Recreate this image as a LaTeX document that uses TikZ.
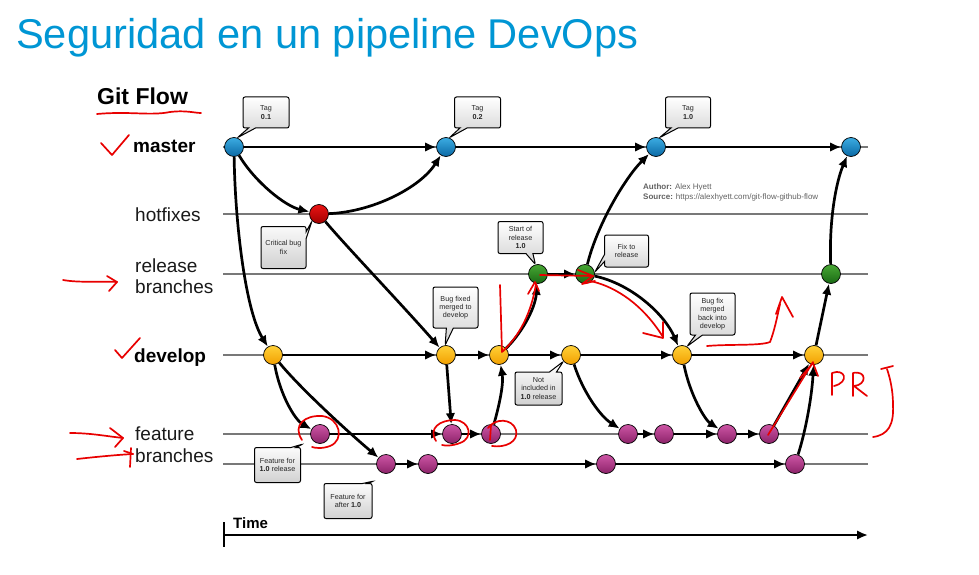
\documentclass[tikz,border=0pt]{standalone}
\usepackage{fontspec}
\setmainfont{Liberation Sans}
\usetikzlibrary{arrows.meta,shapes.callouts}
\definecolor{titleblue}{RGB}{0,150,212}
\definecolor{lanegray}{RGB}{120,120,120}
\definecolor{inkred}{RGB}{232,0,0}
\definecolor{blueT}{RGB}{60,172,226}
\definecolor{blueB}{RGB}{10,105,165}
\definecolor{redT}{RGB}{235,20,20}
\definecolor{redB}{RGB}{160,0,0}
\definecolor{greenT}{RGB}{72,168,52}
\definecolor{greenB}{RGB}{25,105,20}
\definecolor{yellowT}{RGB}{255,208,55}
\definecolor{yellowB}{RGB}{242,160,0}
\definecolor{plumT}{RGB}{205,85,165}
\definecolor{plumB}{RGB}{140,35,105}
\begin{document}
\begin{tikzpicture}[x=1pt,y=-1pt,
  lane/.style={draw=lanegray, line width=2.6pt},
  flow/.style={-{Latex[length=11pt,width=9.5pt]}, line width=2.7pt},
  commit/.style={circle, draw=black, line width=0.7pt, minimum size=19pt, inner sep=0pt},
  cmaster/.style={commit, top color=blueT, bottom color=blueB},
  chotfix/.style={commit, top color=redT, bottom color=redB},
  crelease/.style={commit, top color=greenT, bottom color=greenB},
  cdevelop/.style={commit, top color=yellowT, bottom color=yellowB},
  cfeature/.style={commit, top color=plumT, bottom color=plumB},
  note/.style={rectangle callout, draw=black, line width=1pt, rounded corners=2pt,
    top color=white, bottom color=black!18, align=center, inner sep=1pt,
    font=\fontsize{7.2}{8.3}\selectfont, text=black!85, callout pointer width=7pt},
  lbl/.style={anchor=base west, inner sep=0pt, font=\fontsize{19}{21}\selectfont, text=black!90},
  lblb/.style={anchor=base west, inner sep=0pt, font=\fontsize{19}{21}\selectfont\bfseries, text=black},
  ink/.style={draw=inkred, line width=1.7pt, line cap=round, line join=round},
]
\useasboundingbox (0,0) rectangle (979,575);

% title
\node[anchor=base west, inner sep=0pt, font=\fontsize{41.6}{48}\selectfont, text=titleblue]
  (title) at (16,49) {Seguridad en un pipeline DevOps};

% branch lanes
\foreach \y in {147,214,274,355,434,464}
  \draw[lane] (223,\y) -- (868,\y);

% lane labels
\node[anchor=base west, inner sep=0pt, font=\fontsize{23}{26}\selectfont\bfseries] (gitflow) at (97,105) {Git Flow};
\node[lblb] (lmaster) at (133,153) {master};
\node[lbl] (lhot) at (135,221.5) {hotfixes};
\node[lbl] (lrelA) at (135,272) {release};
\node[lbl] (lrelB) at (135,293) {branches};
\node[lblb] (ldev) at (134,362) {develop};
\node[lbl] (lfeatA) at (135,440) {feature};
\node[lbl] (lfeatB) at (135,462) {branches};

% commits
\node[cmaster] (M1) at (234,147) {};
\node[cmaster] (M2) at (446,147) {};
\node[cmaster] (M3) at (656,147) {};
\node[cmaster] (M4) at (851,147) {};
\node[chotfix] (H1) at (319,214) {};
\node[crelease] (R1) at (538,274) {};
\node[crelease] (R2) at (585,274) {};
\node[crelease] (R3) at (831,274) {};
\node[cdevelop] (D1) at (273,355) {};
\node[cdevelop] (D2) at (446,355) {};
\node[cdevelop] (D3) at (499,355) {};
\node[cdevelop] (D4) at (571,355) {};
\node[cdevelop] (D5) at (682,355) {};
\node[cdevelop] (D6) at (814,355) {};
\node[cfeature] (F1) at (320,434) {};
\node[cfeature] (F2) at (452,434) {};
\node[cfeature] (F3) at (491,434) {};
\node[cfeature] (F4) at (628,434) {};
\node[cfeature] (F5) at (664,434) {};
\node[cfeature] (F6) at (727,434) {};
\node[cfeature] (F7) at (769,434) {};
\node[cfeature] (G1) at (386,464) {};
\node[cfeature] (G2) at (428,464) {};
\node[cfeature] (G3) at (606,464) {};
\node[cfeature] (G4) at (795,464) {};

% history along each branch
\draw[flow] (M1) -- (M2);
\draw[flow] (M2) -- (M3);
\draw[flow] (M3) -- (M4);
\draw[flow] (D1) -- (D2);
\draw[flow] (D2) -- (D3);
\draw[flow] (D3) -- (D4);
\draw[flow] (D4) -- (D5);
\draw[flow] (D5) -- (D6);
\draw[flow] (R1) -- (R2);
\draw[flow] (F1) -- (F2);
\draw[flow] (F2) -- (F3);
\draw[flow] (F4) -- (F5);
\draw[flow] (F5) -- (F6);
\draw[flow] (F6) -- (F7);
\draw[flow] (G1) -- (G2);
\draw[flow] (G2) -- (G3);
\draw[flow] (G3) -- (G4);

% branching and merging
\draw[flow] (M1) .. controls (255,182) and (285,206) .. (H1);
\draw[flow] (M1) .. controls (235,220) and (245,310) .. (D1);
\draw[flow] (H1) .. controls (372,212) and (420,188) .. (M2);
\draw[flow] (H1) .. controls (345,245) and (405,308) .. (D2);
\draw[flow] (D1) .. controls (280,395) and (295,420) .. (F1);
\draw[flow] (D1) .. controls (300,388) and (348,432) .. (G1);
\draw[flow] (D2) -- (F2);
\draw[flow] (F3) .. controls (498,410) and (504,385) .. (D3);
\draw[flow] (D3) .. controls (520,335) and (535,310) .. (R1);
\draw[flow] (R2) .. controls (597,225) and (625,178) .. (M3);
\draw[flow] (R2) .. controls (632,284) and (665,315) .. (D5);
\draw[flow] (D4) .. controls (583,392) and (600,416) .. (F4);
\draw[flow] (D5) .. controls (690,395) and (705,420) .. (F6);
\draw[flow] (F7) -- (D6);
\draw[flow] (G4) .. controls (806,430) and (812,395) .. (D6);
\draw[flow] (D6) -- (R3);
\draw[flow] (R3) .. controls (829,220) and (836,182) .. (M4);

% callouts
\node[note, minimum width=46pt, minimum height=31pt, callout absolute pointer={(M1.70)}] (tag01) at (266,112.5) {Tag\\\textbf{0.1}};
\node[note, minimum width=46pt, minimum height=31pt, callout absolute pointer={(M2.70)}] (tag02) at (477.5,112.5) {Tag\\\textbf{0.2}};
\node[note, minimum width=45pt, minimum height=31pt, callout absolute pointer={(M3.70)}] (tag10) at (688,112.5) {Tag\\\textbf{1.0}};
\node[note, minimum width=45pt, minimum height=42pt, callout absolute pointer={(H1.225)}] (crit) at (283.5,247.5) {Critical bug\\fix};
\node[note, minimum width=45pt, minimum height=32pt, callout absolute pointer={(R1.105)}] (start) at (520.5,237.5) {Start of\\release\\\textbf{1.0}};
\node[note, minimum width=44pt, minimum height=32pt, callout absolute pointer={(R2.10)}] (fixrel) at (626.5,251) {Fix to\\release};
\node[note, minimum width=45pt, minimum height=41pt, callout absolute pointer={(D2.95)}] (bugdev) at (455.5,307.5) {Bug fixed\\merged to\\develop};
\node[note, minimum width=47pt, minimum height=33pt, callout absolute pointer={(D4.220)}] (notinc) at (538.5,388.5) {Not\\included in\\\textbf{1.0} release};
\node[note, minimum width=45pt, minimum height=42pt, callout absolute pointer={(D5.60)}] (bugback) at (712.5,314) {Bug fix\\merged\\back into\\develop};
\coordinate (flagA) at (303,444);
\coordinate (flagB) at (374,481);
\node[note, minimum width=46pt, minimum height=35pt, callout absolute pointer={(flagA)}, callout pointer width=5pt] (feat10) at (277.5,465) {Feature for\\\textbf{1.0} release};
\node[note, minimum width=48pt, minimum height=35pt, callout absolute pointer={(flagB)}, callout pointer width=5pt] (featafter) at (348,501) {Feature for\\after \textbf{1.0}};

% credits
\node[anchor=base west, inner sep=0pt, font=\fontsize{8}{10}\selectfont, text=black!62] (author) at (643,189) {\textbf{Author:} Alex Hyett};
\node[anchor=base west, inner sep=0pt, font=\fontsize{8}{10}\selectfont, text=black!62] (source) at (643,199.5) {\textbf{Source:} https://alexhyett.com/git-flow-github-flow};

% time axis
\node[anchor=base west, inner sep=0pt, font=\fontsize{15}{18}\selectfont\bfseries] (time) at (233,528) {Time};
\draw[line width=2.2pt] (224,522) -- (224,547);
\draw[line width=2.2pt, -{Latex[length=11pt,width=9.5pt]}] (224,535) -- (868,535);

% hand-drawn marks in red
\draw[ink] (97,114) .. controls (130,111) and (150,116) .. (170,112) .. controls (185,110) and (195,113) .. (201,113);
\draw[ink] (101,143) -- (112,155) -- (129,135);
\draw[ink] (115,350) -- (122,358) -- (140,338);
\draw[ink] (63,280) .. controls (80,283) and (100,281) .. (117,282);
\draw[ink] (107,276) -- (117,282) -- (109,291);
\draw[ink] (70,433) .. controls (90,433) and (105,436) .. (123,438);
\draw[ink] (110,428) -- (123,438) -- (115,447);
\draw[ink] (77,459) .. controls (95,457) and (115,455) .. (133,454);
\draw[ink] (124,451) -- (133,454);
\draw[ink] (131,448) -- (130,467);
% loops round the merged feature commits
\draw[ink] (302,440) .. controls (292,425) and (305,415) .. (322,416) .. controls (340,418) and (345,440) .. (330,446) .. controls (322,449) and (315,448) .. (312,447);
\draw[ink] (436,441) .. controls (428,428) and (440,420) .. (455,420) .. controls (470,421) and (474,438) .. (460,443) .. controls (452,446) and (446,446) .. (442,445);
\draw[ink] (488,428) .. controls (495,418) and (512,418) .. (516,430) .. controls (519,442) and (505,448) .. (492,446);
\draw[ink] (491,425) -- (490,440);
% release path
\draw[ink] (500,285) -- (502,352) .. controls (515,340) and (530,320) .. (536,284);
\draw[ink] (528,294) -- (535,282) -- (539,291);
\draw[ink] (540,275) -- (593,276);
\draw[ink] (578,270) -- (593,276) -- (582,284) -- (595,281);
\draw[ink] (590,281) .. controls (610,285) and (640,300) .. (663,337);
\draw[ink] (643,333) -- (663,338) -- (663,322);
\draw[ink] (707,346) .. controls (730,344) and (760,346) .. (770,342) .. controls (774,332) and (777,318) .. (780,304);
\draw[ink] (776,314) -- (782,297) -- (793,317);
% pull request
\draw[ink] (768,435) -- (813,362);
\draw[ink] (800,378) -- (813,363) -- (818,376);
\draw[ink] (832,395) -- (832,373) .. controls (845,368) and (850,382) .. (834,386);
\draw[ink] (853,396) -- (853,373) .. controls (867,370) and (867,385) .. (854,386) -- (867,396);
\draw[ink] (873,437) .. controls (888,435) and (894,425) .. (893,405) .. controls (893,390) and (890,378) .. (887,369);
\draw[ink] (881,369) -- (893,366);
\end{tikzpicture}
\end{document}
